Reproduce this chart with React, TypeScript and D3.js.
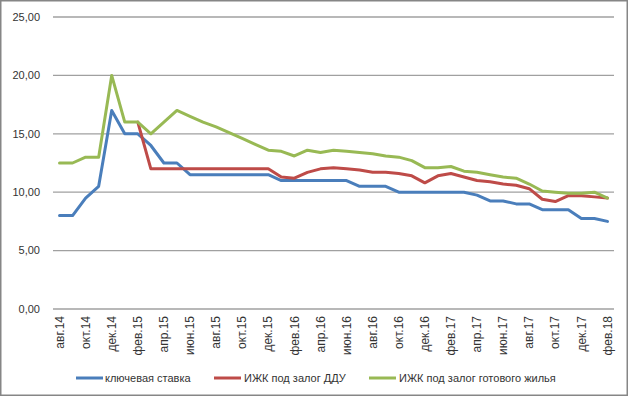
import React from "react";
import * as d3 from "d3";

const months = [
  "авг.14","сен.14","окт.14","ноя.14","дек.14","янв.15","фев.15","мар.15","апр.15","май.15","июн.15","июл.15",
  "авг.15","сен.15","окт.15","ноя.15","дек.15","янв.16","фев.16","мар.16","апр.16","май.16","июн.16","июл.16",
  "авг.16","сен.16","окт.16","ноя.16","дек.16","янв.17","фев.17","мар.17","апр.17","май.17","июн.17","июл.17",
  "авг.17","сен.17","окт.17","ноя.17","дек.17","янв.18","фев.18"
];

const keyRate = [8,8,9.5,10.5,17,15,15,14,12.5,12.5,11.5,11.5,11.5,11.5,11.5,11.5,11.5,11,11,11,11,11,11,10.5,10.5,10.5,10,10,10,10,10,10,9.75,9.25,9.25,9,9,8.5,8.5,8.5,7.75,7.75,7.5];
const dduRate: (number | null)[] = [null,null,null,null,null,null,16,12,12,12,12,12,12,12,12,12,12,11.3,11.2,11.7,12,12.1,12,11.9,11.7,11.7,11.6,11.4,10.8,11.4,11.6,11.3,11,10.9,10.7,10.6,10.3,9.4,9.2,9.7,9.7,9.6,9.5];
const readyRate = [12.5,12.5,13,13,20,16,16,15,16,17,16.5,16,15.6,15.1,14.6,14.1,13.6,13.5,13.1,13.6,13.4,13.6,13.5,13.4,13.3,13.1,13,12.7,12.1,12.1,12.2,11.8,11.7,11.5,11.3,11.2,10.7,10.1,10,9.9,9.9,10,9.5];

const yTicks = [0,5,10,15,20,25];
const seriesNames = ["ключевая ставка","ИЖК под залог ДДУ","ИЖК под залог готового жилья"];
const colors = ["#4A7EBB","#BE4B48","#98B954"];

const W = 629, H = 397;
const FONT = "'Liberation Sans', Arial, sans-serif";

export default function App() {
  const x = d3.scaleBand<string>().domain(months).range([53, 614]);
  const cx = (m: string) => (x(m) as number) + x.bandwidth() / 2;
  const y = d3.scaleLinear().domain([0, 25]).range([309, 17]);
  const fmt = (v: number) => v.toFixed(2).replace(".", ",");

  const line = d3.line<number | null>()
    .defined((d) => d !== null)
    .x((_, i) => cx(months[i]))
    .y((d) => y(d as number));

  const series = [keyRate, dduRate, readyRate];
  const legendItems = [
    { x: 76, tx: 105 },
    { x: 214, tx: 244 },
    { x: 369, tx: 399 },
  ];

  return (
    <svg width={W} height={H} style={{ position: "fixed", left: 0, top: 0, background: "#fff" }} fontFamily={FONT}>
      <rect x={0.75} y={0.75} width={W - 2.5} height={H - 2.5} fill="#fff" stroke="#868686" strokeWidth={1.5} />
      {yTicks.map((t) => (
        <g key={t}>
          <line x1={53} x2={614} y1={y(t)} y2={y(t)} stroke="#A0A0A0" strokeWidth={1.3} />
          <text x={40} y={y(t)} dy="0.35em" textAnchor="end" fontSize={11} fill="#333">{fmt(t)}</text>
        </g>
      ))}
      {months.map((m, i) =>
        i % 2 === 0 ? (
          <text key={m} transform={`translate(${cx(m)},316) rotate(-90)`} dy="0.35em" textAnchor="end" fontSize={12} fill="#333">{m}</text>
        ) : null
      )}
      {series.map((s, i) => (
        <path key={i} d={line(s as (number | null)[]) || ""} fill="none" stroke={colors[i]} strokeWidth={3} strokeLinejoin="round" strokeLinecap="round" />
      ))}
      {legendItems.map((l, i) => (
        <g key={i}>
          <line x1={l.x} x2={l.x + 27} y1={378} y2={378} stroke={colors[i]} strokeWidth={3} />
          <text x={l.tx} y={378} dy="0.35em" fontSize={11} fill="#333">{seriesNames[i]}</text>
        </g>
      ))}
    </svg>
  );
}
